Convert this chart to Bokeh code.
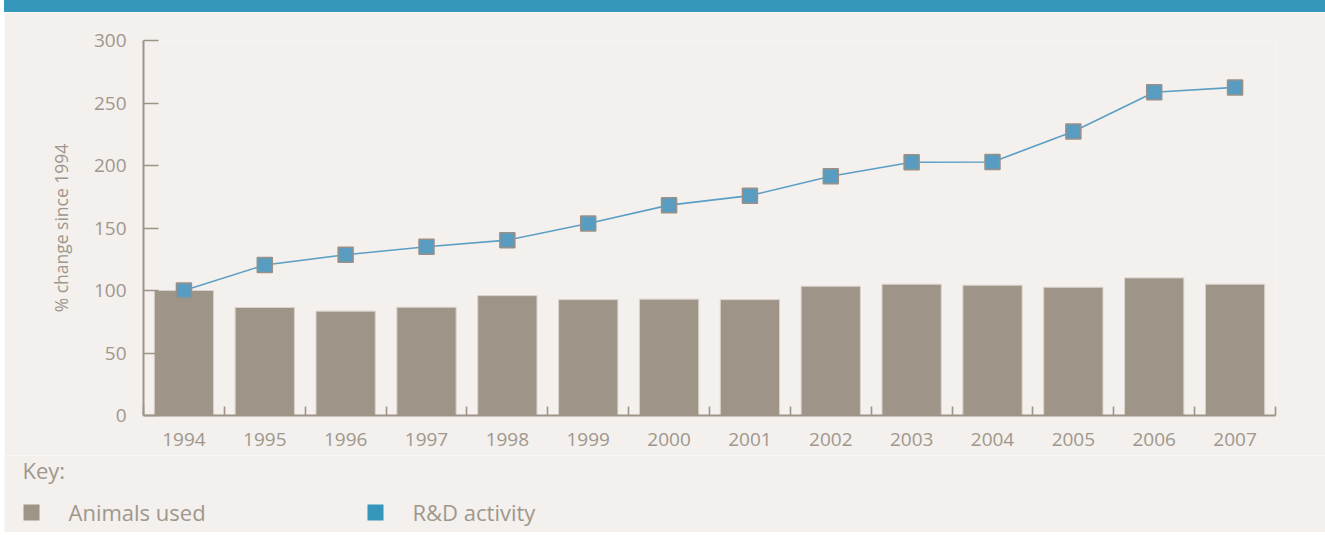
from bokeh.plotting import figure
from bokeh.layouts import column, row
from bokeh.models import Range1d, FixedTicker, Spacer
from bokeh.core.properties import value
from bokeh.embed import file_html
from bokeh.resources import INLINE

# Data: % change since 1994
years = ["1994", "1995", "1996", "1997", "1998", "1999", "2000",
         "2001", "2002", "2003", "2004", "2005", "2006", "2007"]
animals_used = [100, 86.4, 83.5, 86.6, 95.9, 92.7, 93.1,
                92.7, 103.4, 105, 104.2, 102.6, 110.1, 105]
rd_activity = [100, 120.4, 128.6, 135, 140.3, 153.6, 168.3,
               175.9, 191.4, 202.6, 202.8, 227.2, 258.6, 262.5]
y_ticks = [0, 50, 100, 150, 200, 250, 300]
series_names = ["Animals used", "R&D activity"]
key_title = "Key:"
y_label = "% change since 1994"

BG = "#f3f0ed"
BAND = "#3597bb"
AXIS = "#9d9387"
TEXT = "#a0978c"
BAR = "#9e9488"
BAR_EDGE = "#dad3cb"
LINE = "#5b9fc5"
MARK = "#589cc1"
MARK_EDGE = "#9a9088"
KEY_BLUE = "#3597bb"
FONT = "Open Sans"

W = 1321
xpos = list(range(len(years)))

# thin coloured band across the top
band = Spacer(width=W, height=12, styles={"background-color": BAND})

# main chart
p = figure(width=W, height=443, output_backend="svg", toolbar_location=None,
           x_range=Range1d(-0.5, len(years) - 0.5), y_range=Range1d(0, 300),
           min_border_left=139, min_border_right=50,
           min_border_top=28, min_border_bottom=40,
           outline_line_color=None,
           background_fill_color=BG, border_fill_color=BG)
p.grid.visible = False

p.vbar(x=xpos, top=animals_used, width=0.733, bottom=0,
       fill_color=BAR, line_color=BAR_EDGE, line_width=1)
p.line(x=xpos, y=rd_activity, line_color=LINE, line_width=1.6)
p.scatter(x=xpos, y=rd_activity, marker="square", size=15,
          fill_color=MARK, line_color=MARK_EDGE, line_width=1.5)

# y axis
ya = p.yaxis[0]
ya.ticker = FixedTicker(ticks=y_ticks, minor_ticks=[])
ya.axis_line_color = AXIS
ya.axis_line_width = 2
ya.major_tick_line_color = AXIS
ya.major_tick_line_width = 1.6
ya.major_tick_in = 15
ya.major_tick_out = 0
ya.minor_tick_line_color = None
ya.major_label_standoff = 17
ya.major_label_text_font = FONT
ya.major_label_text_font_size = "19px"
ya.major_label_text_color = TEXT
ya.axis_label = y_label
ya.axis_label_text_font = FONT
ya.axis_label_text_font_size = "17.5px"
ya.axis_label_text_font_style = "normal"
ya.axis_label_text_color = TEXT
ya.axis_label_standoff = 18

# x axis: labels at category centres, ticks at category boundaries
xa = p.xaxis[0]
xa.ticker = FixedTicker(ticks=xpos, minor_ticks=[i - 0.5 for i in range(len(years) + 1)])
xa.major_label_overrides = {i: y for i, y in zip(xpos, years)}
xa.axis_line_color = AXIS
xa.axis_line_width = 2
xa.major_tick_line_color = None
xa.major_tick_in = 0
xa.major_tick_out = 0
xa.minor_tick_line_color = AXIS
xa.minor_tick_line_width = 1.6
xa.minor_tick_in = 9
xa.minor_tick_out = 0
xa.major_label_standoff = 17
xa.major_label_text_font = FONT
xa.major_label_text_font_size = "19px"
xa.major_label_text_color = TEXT

# key below the chart (coordinates are page pixels)
key = figure(width=W, height=77, output_backend="svg", toolbar_location=None,
             x_range=Range1d(4, 4 + W), y_range=Range1d(532, 455),
             x_axis_location=None, y_axis_location=None,
             min_border=0, outline_line_color=None,
             background_fill_color=BG, border_fill_color=BG)
key.grid.visible = False
key.text(x=[22], y=[469], text=[key_title], text_align="left",
         text_baseline="middle", text_font=value(FONT),
         text_font_size="22px", text_color=TEXT)
key.quad(left=[23, 367], right=[39, 383], top=[504, 504], bottom=[520, 520],
         fill_color=[BAR, KEY_BLUE], line_color=None)
key.text(x=[68, 412], y=[511, 511], text=series_names, text_align="left",
         text_baseline="middle", text_font=value(FONT),
         text_font_size="22px", text_color=TEXT)

# the key is wrapped in its own row so its frame keeps the full width
layout = column(band, p, row(key), margin=(0, 0, 0, 4), spacing=0)
open("out.html", "w").write(file_html(layout, INLINE))
